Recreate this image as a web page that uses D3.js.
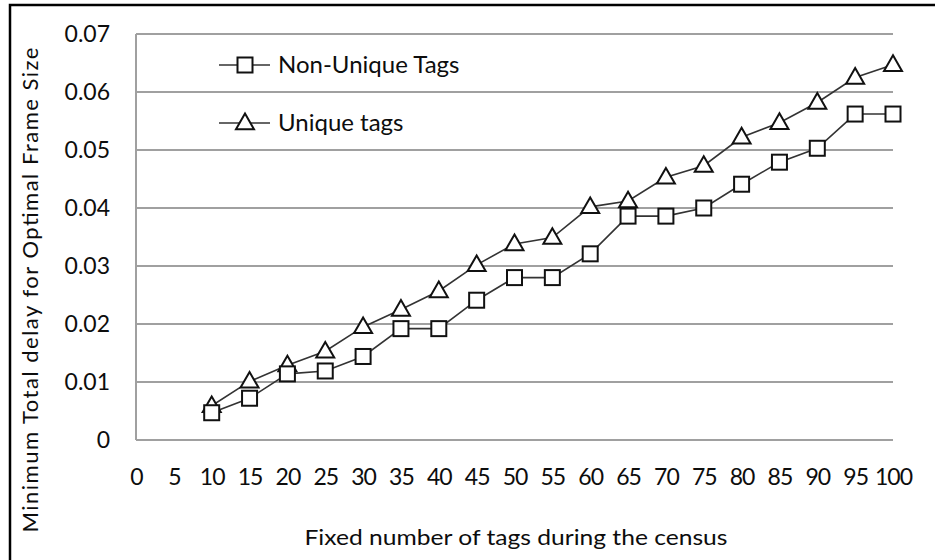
<!DOCTYPE html>
<html>
<head>
<meta charset="utf-8">
<script src="https://cdn.jsdelivr.net/npm/d3@7"></script>
<style>
  body { margin: 0; background: #fff; }
  svg text { font-family: Lato, "Open Sans", sans-serif; fill: #0d0d0d; }
</style>
</head>
<body>
<svg width="935" height="560"></svg>
<script>
// data
const xValues = [10, 15, 20, 25, 30, 35, 40, 45, 50, 55, 60, 65, 70, 75, 80, 85, 90, 95, 100];
const nonUnique = [0.0047, 0.0072, 0.0114, 0.0119, 0.0144, 0.0192, 0.0192, 0.0241, 0.0280, 0.0280,
                   0.0321, 0.0386, 0.0386, 0.0400, 0.0441, 0.0479, 0.0503, 0.0562, 0.0562];
const unique = [0.0059, 0.0101, 0.0129, 0.0153, 0.0195, 0.0225, 0.0257, 0.0302, 0.0338, 0.0349,
                0.0402, 0.0412, 0.0453, 0.0473, 0.0522, 0.0547, 0.0582, 0.0625, 0.0647];
const xTicks = [0, 5, 10, 15, 20, 25, 30, 35, 40, 45, 50, 55, 60, 65, 70, 75, 80, 85, 90, 95, 100];
const yTicks = [0, 0.01, 0.02, 0.03, 0.04, 0.05, 0.06, 0.07];
const seriesNames = ['Non-Unique Tags', 'Unique tags'];

const svg = d3.select('svg');

// outer frame (only top and left edges show)
svg.append('path').attr('d', 'M10,560V5H935')
  .attr('fill', 'none').attr('stroke', '#000').attr('stroke-width', 2.5);

const x = d3.scaleLinear().domain([0, 100]).range([136, 893]);
const y = d3.scaleLinear().domain([0, 0.07]).range([440, 34]);

// gridlines
svg.append('g').selectAll('line').data(yTicks).enter().append('line')
  .attr('x1', x(0)).attr('x2', x(100))
  .attr('y1', d => y(d)).attr('y2', d => y(d))
  .attr('stroke', '#a0a0a0').attr('stroke-width', 2);
svg.append('line').attr('x1', x(0)).attr('x2', x(0)).attr('y1', y(0)).attr('y2', y(0.07))
  .attr('stroke', '#a0a0a0').attr('stroke-width', 2);

// axes (labels only)
const yAxis = d3.axisLeft(y).tickValues(yTicks).tickSize(0).tickPadding(0)
  .tickFormat(d => d === 0 ? '0' : d3.format('.2f')(d));
const gy = svg.append('g').attr('transform', 'translate(110,0)').call(yAxis);
gy.select('.domain').remove();
gy.selectAll('text').attr('font-size', 23).attr('font-family', 'Lato').attr('fill', '#0d0d0d');

const xAxis = d3.axisBottom(x).tickValues(xTicks).tickSize(0).tickPadding(0);
const gx = svg.append('g').attr('transform', 'translate(0,469)').call(xAxis);
gx.select('.domain').remove();
gx.selectAll('text').attr('font-size', 23).attr('font-family', 'Lato').attr('fill', '#0d0d0d')
  .attr('letter-spacing', -1);

// axis titles
svg.append('text').attr('x', 516).attr('y', 545).attr('text-anchor', 'middle')
  .attr('font-size', 22).attr('textLength', 423).attr('lengthAdjust', 'spacingAndGlyphs')
  .text('Fixed number of tags during the census');
svg.append('text').attr('transform', 'translate(38,290) rotate(-90)').attr('text-anchor', 'middle')
  .attr('font-size', 22).attr('textLength', 485).attr('lengthAdjust', 'spacing')
  .text('Minimum Total delay for Optimal Frame Size');

// lines and markers
const line = d3.line().x((d, i) => x(xValues[i])).y(d => y(d));
const tri = d3.symbol().type(d3.symbolTriangle).size(140);

function drawSeries(vals, shape) {
  svg.append('path').datum(vals).attr('d', line)
    .attr('fill', 'none').attr('stroke', '#333').attr('stroke-width', 1.6);
  const g = svg.append('g');
  if (shape === 'square') {
    g.selectAll('rect').data(vals).enter().append('rect')
      .attr('x', (d, i) => x(xValues[i]) - 7.5).attr('y', d => y(d) - 7.5)
      .attr('width', 15).attr('height', 15)
      .attr('fill', '#fff').attr('stroke', '#111').attr('stroke-width', 2);
  } else {
    g.selectAll('path').data(vals).enter().append('path')
      .attr('d', tri)
      .attr('transform', (d, i) => 'translate(' + x(xValues[i]) + ',' + (y(d) + 1) + ')')
      .attr('fill', '#fff').attr('stroke', '#111').attr('stroke-width', 2);
  }
}
drawSeries(unique, 'triangle');
drawSeries(nonUnique, 'square');

// legend
const legend = svg.append('g');
[0, 1].forEach(i => {
  const ly = 65 + i * 58;
  legend.append('line').attr('x1', 219).attr('x2', 270).attr('y1', ly).attr('y2', ly)
    .attr('stroke', '#333').attr('stroke-width', 1.6);
  if (i === 0) {
    legend.append('rect').attr('x', 237.5).attr('y', ly - 7.5).attr('width', 15).attr('height', 15)
      .attr('fill', '#fff').attr('stroke', '#111').attr('stroke-width', 2);
  } else {
    legend.append('path').attr('d', tri).attr('transform', 'translate(245,' + (ly + 1) + ')')
      .attr('fill', '#fff').attr('stroke', '#111').attr('stroke-width', 2);
  }
  legend.append('text').attr('x', 278).attr('y', ly + 8).attr('font-size', 24)
    .text(seriesNames[i]);
});
</script>
</body>
</html>
